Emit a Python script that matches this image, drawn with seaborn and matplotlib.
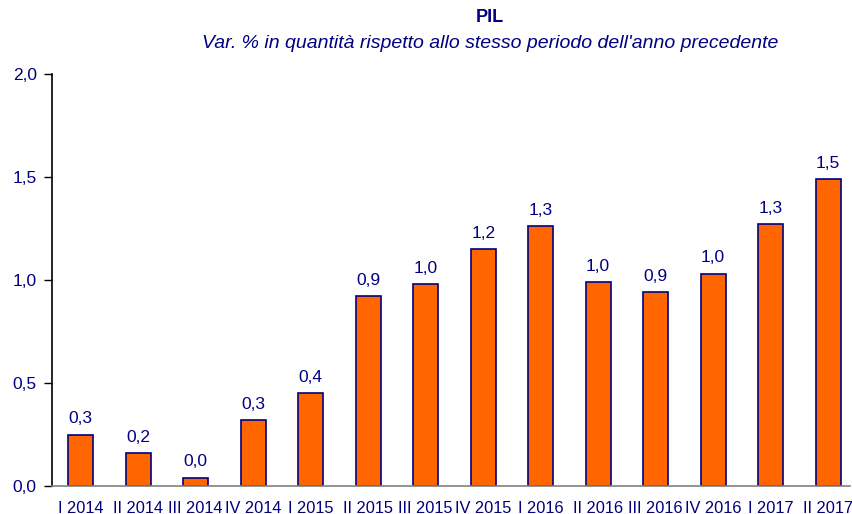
import matplotlib
matplotlib.use("Agg")
import matplotlib.pyplot as plt
import seaborn as sns
import pandas as pd

categories = ["I 2014", "II 2014", "III 2014", "IV 2014", "I 2015", "II 2015", "III 2015",
              "IV 2015", "I 2016", "II 2016", "III 2016", "IV 2016", "I 2017", "II 2017"]
values = [0.25, 0.16, 0.04, 0.32, 0.45, 0.92, 0.98, 1.15, 1.26, 0.99, 0.94, 1.03, 1.27, 1.49]
value_labels = ["0,3", "0,2", "0,0", "0,3", "0,4", "0,9", "1,0", "1,2", "1,3", "1,0", "0,9", "1,0", "1,3", "1,5"]
y_ticks = [0.0, 0.5, 1.0, 1.5, 2.0]
y_tick_labels = ["0,0", "0,5", "1,0", "1,5", "2,0"]

sns.set_style("white")
plt.rcParams['font.family'] = ['Liberation Sans', 'DejaVu Sans']

navy = "#000080"
orange = "#FF6600"

df = pd.DataFrame({"cat": categories, "val": values})

fig = plt.figure(figsize=(8.52, 5.14), dpi=100)
ax = fig.add_axes([52/852, 28/514, 798/852, 412/514])
sns.barplot(data=df, x="cat", y="val", color=orange, edgecolor=navy, linewidth=1.2,
            width=0.44, saturation=1, ax=ax)

ax.set_xlim(-0.5, 13.38)
ax.set_ylim(0, 2.0)
ax.set_yticks(y_ticks)
ax.set_yticklabels(y_tick_labels)
ax.set_xlabel("")
ax.set_ylabel("")
ax.tick_params(axis="y", which="both", left=True, length=6, width=1, color="black",
               labelsize=12.5, labelcolor=navy, pad=5, direction="out")
ax.tick_params(axis="x", bottom=False, labelsize=11.8, labelcolor=navy, pad=7)

for s in ["top", "right"]:
    ax.spines[s].set_visible(False)
ax.spines["left"].set_color("black")
ax.spines["left"].set_linewidth(1.2)
ax.spines["bottom"].set_color("#808080")
ax.spines["bottom"].set_linewidth(1.2)

for i, (v, lab) in enumerate(zip(values, value_labels)):
    ax.annotate(lab, (i, v), xytext=(0, 6), textcoords="offset points",
                ha="center", va="bottom", color=navy, fontsize=12.5)

fig.text(490/852, 1 - 18/514, "PIL", ha="center", va="center", color=navy,
         fontsize=13, fontweight="bold")
fig.text(490/852, 1 - 43/514, "Var. % in quantità rispetto allo stesso periodo dell'anno precedente",
         ha="center", va="center", color=navy, fontsize=14, fontstyle="italic")

fig.savefig("out.png", dpi=100)
